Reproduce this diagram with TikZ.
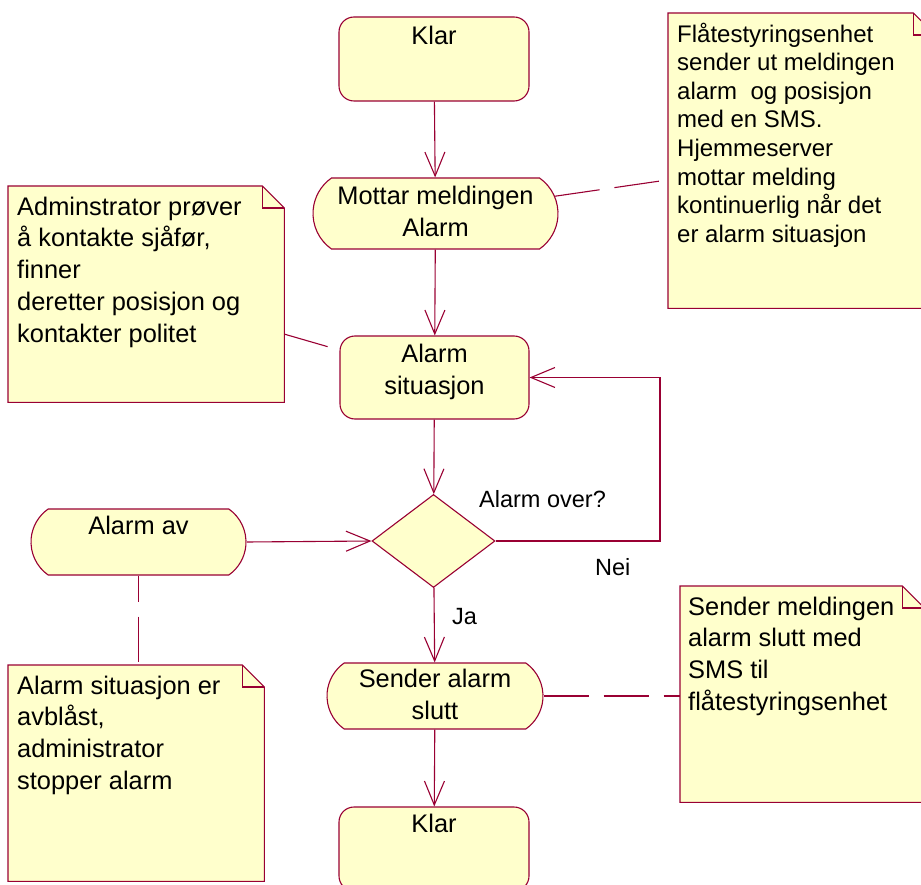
\documentclass[tikz,border=0pt]{standalone}
\usepackage{fontspec}
\setmainfont{Liberation Sans}
\usetikzlibrary{shapes.misc,shapes.geometric,arrows.meta}

\definecolor{umlline}{RGB}{153,0,51}
\definecolor{umlfill}{RGB}{255,255,204}

% note outline with a folded upper right corner, drawn round a named node
\newcommand\drawnotebox[1]{%
  \filldraw[noteline] (#1.south west) -- (#1.north west)
    -- ([xshift=-22pt]#1.north east) -- ([yshift=-22pt]#1.north east)
    -- (#1.south east) -- cycle;
  \draw[noteline, fill=none] ([xshift=-22pt]#1.north east) |- ([yshift=-22pt]#1.north east);
}

\tikzset{
  statebox/.style={rectangle, rounded corners=15pt, draw=umlline, fill=umlfill,
    line width=1.1pt, inner sep=0pt},
  actbox/.style={rounded rectangle, rounded rectangle arc length=110, draw=umlline,
    fill=umlfill, line width=1.1pt, inner sep=0pt},
  decbox/.style={diamond, draw=umlline, fill=umlfill, line width=1.1pt, inner sep=0pt},
  notebody/.style={rectangle, draw=none, inner sep=0pt, anchor=north west},
  noteline/.style={draw=umlline, fill=umlfill, line width=1.1pt},
  flow/.style={draw=umlline, line width=1.1pt, -{Straight Barb[length=24pt,width=20pt]}},
  anchorline/.style={draw=umlline, line width=1.1pt, dash pattern=on 45pt off 15pt},
  statetext/.style={font=\fontsize{25.4}{31.7}\selectfont, inner sep=0pt, anchor=north, align=center},
  notetext/.style={font=\fontsize{25.4}{31.7}\selectfont, inner sep=0pt, anchor=north west, align=left},
  smallnotetext/.style={font=\fontsize{24}{28.6}\selectfont, inner sep=0pt, anchor=north west, align=left},
  guardtext/.style={font=\fontsize{23.5}{28}\selectfont, inner sep=0pt, anchor=base west},
}

\newcommand\capline{\rule{0pt}{20pt}}

\begin{document}
\begin{tikzpicture}[x=1pt, y=-1pt]
  \useasboundingbox (0,0) rectangle (921,885);
  \clip (0,0) rectangle (921,885);

  % states and activities
  \node[statebox, minimum width=190pt, minimum height=84pt] (klar1) at (434,59) {};
  \node[actbox, minimum width=245pt, minimum height=71pt] (mottar) at (435.5,213.5) {};
  \node[statebox, minimum width=189pt, minimum height=83pt] (situasjon) at (434.5,377.5) {};
  \node[decbox, minimum width=123pt, minimum height=93pt] (over) at (433.5,541) {};
  \node[actbox, minimum width=215pt, minimum height=66pt] (alarmav) at (138.5,542) {};
  \node[actbox, minimum width=216pt, minimum height=66pt] (sender) at (435,696) {};
  \node[statebox, minimum width=190pt, minimum height=84pt] (klar2) at (434,849) {};

  \node[statetext] (klar1-t) at ([yshift=-8pt]klar1.north) {\capline Klar};
  \node[statetext] (mottar-t) at ([yshift=-7pt]mottar.north) {\capline Mottar meldingen\\Alarm};
  \node[statetext] (situasjon-t) at ([yshift=-7pt]situasjon.north) {\capline Alarm\\situasjon};
  \node[statetext] (alarmav-t) at ([yshift=-6pt]alarmav.north) {\capline Alarm av};
  \node[statetext] (sender-t) at ([yshift=-5pt]sender.north) {\capline Sender alarm\\slutt};
  \node[statetext] (klar2-t) at ([yshift=-6pt]klar2.north) {\capline Klar};

  % transitions
  \coordinate (loopcorner) at (660,541);
  \draw[flow] (klar1) -- (mottar);
  \draw[flow] (mottar) -- (situasjon);
  \draw[flow] (situasjon) -- (over);
  \draw[flow] (over.east) -- (loopcorner) |- (situasjon.east);
  \draw[flow] (alarmav.east) -- (over.west);
  \draw[flow] (over) -- (sender);
  \draw[flow] (sender) -- (klar2);

  \node[guardtext] (overq) at (479,507) {Alarm over?};
  \node[guardtext] (nei) at (595,575) {Nei};
  \node[guardtext] (ja) at (452,624) {Ja};

  % notes
  \node[notebody, minimum width=267pt, minimum height=295pt] (notetr) at (668,13) {};
  \drawnotebox{notetr}
  \node[smallnotetext] (notetr-t) at ([xshift=9pt,yshift=-9pt]notetr.north west)
    {\capline Flåtestyringsenhet\\sender ut meldingen\\alarm~ og posisjon\\med en SMS.\\Hjemmeserver\\mottar melding\\kontinuerlig når det\\er alarm situasjon};

  \node[notebody, minimum width=276pt, minimum height=216pt] (notetl) at (8,186) {};
  \drawnotebox{notetl}
  \node[notetext] (notetl-t) at ([xshift=9pt,yshift=-9pt]notetl.north west)
    {\capline Adminstrator prøver\\å kontakte sjåfør,\\finner\\deretter posisjon og\\kontakter politet};

  \node[notebody, minimum width=256pt, minimum height=216pt] (notebl) at (8,665) {};
  \drawnotebox{notebl}
  \node[notetext] (notebl-t) at ([xshift=9pt,yshift=-9pt]notebl.north west)
    {\capline Alarm situasjon er\\avblåst,\\administrator\\stopper alarm};

  \node[notebody, minimum width=244pt, minimum height=216pt] (notebr) at (680,586) {};
  \drawnotebox{notebr}
  \node[notetext] (notebr-t) at ([xshift=8pt,yshift=-9pt]notebr.north west)
    {\capline Sender meldingen\\alarm slutt med\\SMS til\\flåtestyringsenhet};

  % note attachments
  \draw[anchorline] (mottar) -- (notetr);
  \draw[anchorline] (notetl) -- (situasjon);
  \draw[anchorline, dash phase=19pt] (alarmav.south) -- (alarmav.south |- notebl.north);
  \draw[anchorline] (sender.east) -- (sender.east -| notebr.west);
\end{tikzpicture}
\end{document}
